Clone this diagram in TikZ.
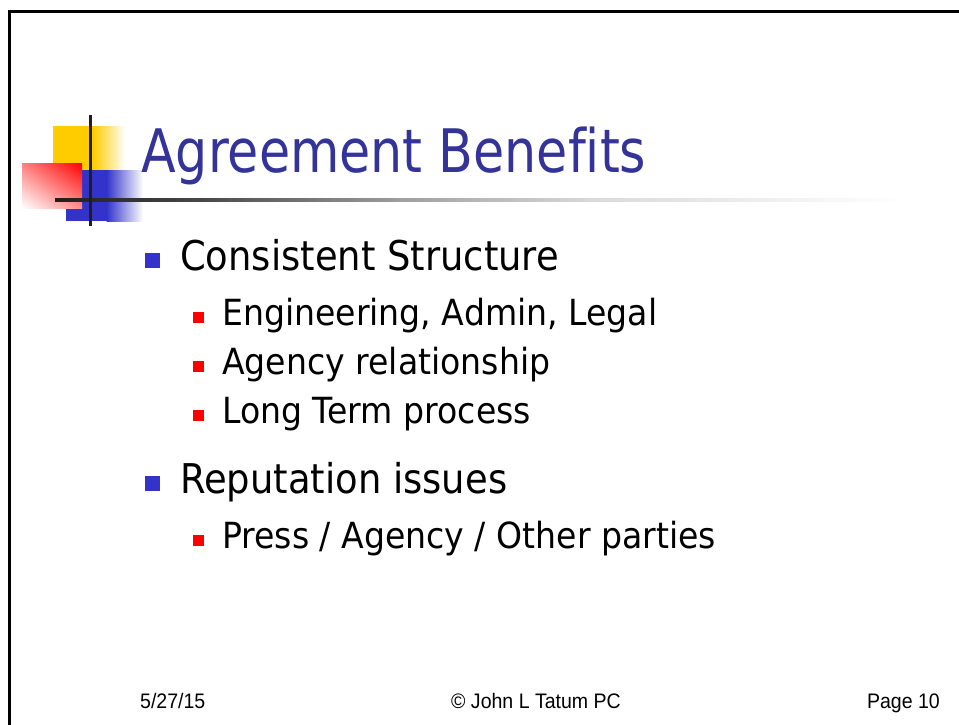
\documentclass[tikz,border=0pt]{standalone}
\usepackage{fontspec}
\usetikzlibrary{shadings}
\setmainfont{DejaVu Sans}
\newfontfamily\titlefont{DejaVu Sans}[FakeStretch=0.845, Ligatures=NoCommon]
\newfontfamily\bodyfont{DejaVu Sans}[FakeStretch=0.90, Ligatures=NoCommon]
\newfontfamily\subfont{DejaVu Sans}[FakeStretch=0.92, Ligatures=NoCommon]
\newfontfamily\footfont{Liberation Sans}[FakeStretch=0.93]
\definecolor{titleblue}{HTML}{333399}
\definecolor{bulletblue}{HTML}{3333CC}
\definecolor{logoyellow}{HTML}{FFCC00}
\definecolor{logoblue}{HTML}{3333CC}
\definecolor{bulletred}{HTML}{FF0000}
\definecolor{linedark}{HTML}{1E1E1E}
\colorlet{redhalf}{bulletred!50}
\colorlet{redquarter}{bulletred!45}
\tikzset{
  titletext/.style={anchor=base west, inner sep=0pt, text=titleblue, font=\titlefont\fontsize{60}{70}\selectfont},
  levelone/.style={anchor=base west, inner sep=0pt, text=black, font=\bodyfont\fontsize{41}{48}\selectfont},
  leveltwo/.style={anchor=base west, inner sep=0pt, text=black, font=\subfont\fontsize{36}{42}\selectfont},
  foottext/.style={inner sep=0pt, text=black, font=\footfont\fontsize{21}{25}\selectfont},
  bulletone/.style={fill=bulletblue, draw=none},
  bullettwo/.style={fill=bulletred, draw=none},
}
\begin{document}
\begin{tikzpicture}[x=1pt,y=-1pt]
\useasboundingbox (0,0) rectangle (959,725);
\fill[white] (0,0) rectangle (959,725);
\clip (0,0) rectangle (959,725);
% slide frame
\draw[line width=3pt, black] (9.5,760) -- (9.5,11.5) -- (980,11.5);
% logo
\fill[logoyellow] (53,126) rectangle (94,171);
\shade[left color=logoyellow, right color=white] (93.5,126) rectangle (125,171);
\fill[logoblue] (66,170) rectangle (107,221);
\shade[left color=logoblue, right color=white] (106.5,170) rectangle (143,221);
\shade[upper right=bulletred, upper left=redhalf, lower right=redquarter, lower left=white] (22,163) rectangle (82,208);
% title underline (fading)
\shade[left color=linedark, right color=black!72] (55,198.5) rectangle (200,201.5);
\shade[left color=black!72, right color=black!38] (199.5,198.5) rectangle (400,201.5);
\shade[left color=black!38, right color=black!14] (399.5,198.5) rectangle (600,201.5);
\shade[left color=black!14, right color=white] (599.5,198.5) rectangle (905,201.5);
\fill[linedark] (89,115) rectangle (92,226);
% title
\node[titletext] (title) at (141,172) {Agreement Benefits};
% bullets
\fill[bulletone] (145,253) rectangle (160,268);
\node[levelone] (b1) at (180,270) {Consistent Structure};
\fill[bullettwo] (193,312) rectangle (204,323);
\node[leveltwo] (b11) at (222,325) {Engineering, Admin, Legal};
\fill[bullettwo] (193,361) rectangle (204,372);
\node[leveltwo] (b12) at (222,374) {Agency relationship};
\fill[bullettwo] (193,410) rectangle (204,421);
\node[leveltwo] (b13) at (222,423) {Long Term process};
\fill[bulletone] (145,476) rectangle (160,491);
\node[levelone] (b2) at (180,493) {Reputation issues};
\fill[bullettwo] (193,535) rectangle (204,546);
\node[leveltwo] (b21) at (222,548) {Press / Agency / Other parties};
% footer
\node[foottext, anchor=base west] (date) at (140,708) {5/27/15};
\node[foottext, anchor=base] (copy) at (536,708) {© John L Tatum PC};
\node[foottext, anchor=base east] (page) at (940,708) {Page 10};
\end{tikzpicture}
\end{document}
